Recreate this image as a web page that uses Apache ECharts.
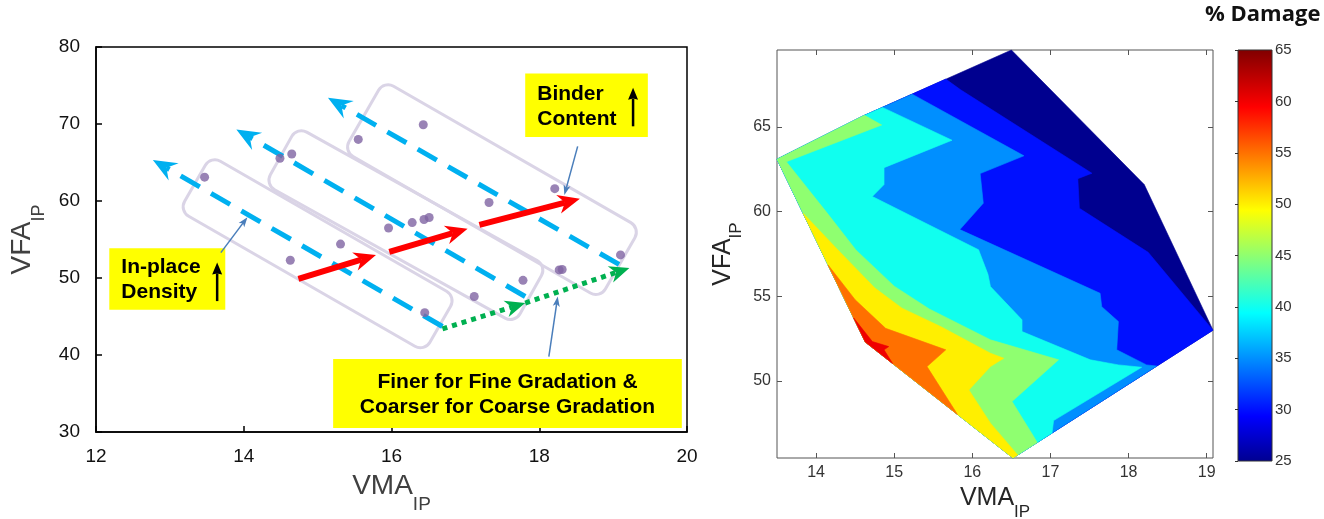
<!DOCTYPE html>
<html>
<head>
<meta charset="utf-8">
<title>VFA vs VMA</title>
<script src="https://cdn.jsdelivr.net/npm/echarts@6.0.0/dist/echarts.min.js"></script>
<style>
  html, body { margin: 0; padding: 0; background: #fff; }
  #main { width: 1324px; height: 519px; }
</style>
</head>
<body>
<div id="main"></div>
<script>
// ---------- left panel (VMA / VFA scatter with annotations) ----------
var mixPoints = [
  [13.47, 63.1], [14.49, 65.55], [14.65, 66.1], [15.55, 68.0], [16.43, 69.9],
  [14.63, 52.3], [15.31, 54.4], [15.96, 56.5], [16.28, 57.2], [16.44, 57.6],
  [16.51, 57.85], [16.45, 45.5], [17.12, 47.6], [17.32, 59.8], [17.78, 49.7],
  [18.21, 61.6], [18.27, 51.05], [18.31, 51.1], [19.1, 53.0]
];
// cyan dashed arrows: [start, tip]
var binderLines = [
  [[16.69, 43.7], [12.77, 65.33]],
  [[17.81, 47.6], [13.9, 69.3]],
  [[19.08, 51.76], [15.14, 73.4]]
];
// red arrows
var densityArrows = [
  [[14.74, 49.9], [15.79, 52.98]],
  [[15.97, 53.4], [17.03, 56.4]],
  [[17.19, 56.9], [18.55, 60.3]]
];
// green dotted arrows
var gradationArrows = [
  [[16.69, 43.4], [17.81, 46.75]],
  [[17.81, 46.75], [19.22, 51.3]]
];
// rounded group frames: top corner, left corner, bottom corner
var groupBoxes = [
  [13.55, 65.9, 13.13, 58.7, 16.45, 40.4],
  [14.73, 69.6, 14.28, 62.2, 17.66, 44.14],
  [15.91, 75.56, 15.34, 66.55, 18.81, 47.4]
];
// yellow notes: x1, y1, x2, y2
var noteBoxes = [
  [17.81, 76.56, 19.47, 68.3],
  [12.18, 53.85, 13.75, 45.88],
  [15.21, 39.49, 19.93, 30.52]
];
var noteText = [
  'Binder\nContent',
  'In-place\nDensity',
  'Finer for Fine Gradation &\nCoarser for Coarse Gradation'
];
var noteAlign = ['left', 'left', 'center'];
var noteUpArrows = [
  [[19.27, 69.7], [19.27, 74.7]],
  [[13.64, 47.0], [13.64, 52.0]]
];
var notePointers = [
  [[18.52, 67.1], [18.34, 60.77]],
  [[13.69, 53.3], [14.05, 57.9]],
  [[18.13, 39.8], [18.25, 47.6]]
];

// ---------- right panel (% damage contour) ----------
var hull = [[13.5, 63.1], [14.6, 65.65], [16.5, 69.55], [18.2, 61.6], [19.08, 53.0], [16.52, 45.45], [14.63, 52.3]];
var c30 = [[15.66, 67.83], [15.85, 67.2], [17.53, 62.27], [17.35, 61.95], [17.37, 60.2], [18.25, 57.6], [19.08, 53.0]];
var c35 = [[15.23, 66.94], [16.66, 63.3], [16.1, 62.25], [16.14, 60.5], [15.84, 58.94], [17.635, 55.18], [17.656, 54.39],
  [17.869, 53.51], [17.848, 51.84], [18.23, 50.95], [18.36, 50.88]];
var c40 = [[14.85, 66.16], [15.74, 64.22], [14.87, 62.6], [14.87, 61.6], [14.72, 60.9], [16.08, 57.75], [16.2, 56.3],
  [16.232, 55.575], [16.636, 53.61], [16.636, 52.92], [17.51, 51.25], [17.869, 50.95], [18.167, 50.81], [17.04, 47.66], [17.02, 46.92]];
var c45 = [[14.62, 65.69], [14.84, 65.12], [13.62, 62.95], [14.14, 59.93], [14.51, 57.74], [15.0, 55.6], [15.45, 54.25],
  [16.232, 52.43], [17.104, 51.25], [16.508, 48.79], [16.785, 46.72], [16.83, 46.36]];
var c50 = [[13.835, 59.9], [14.28, 57.74], [14.75, 55.5], [15.1, 54.3], [15.6, 53.2], [16.232, 51.64], [16.402, 51.34],
  [16.232, 50.85], [15.956, 49.47], [16.232, 47.51], [16.58, 45.63]];
var c55 = [[14.154, 56.85], [14.5, 54.8], [14.89, 53.11], [15.66, 51.84], [15.42, 50.85], [15.81, 48.02]];
var c60 = [[14.48, 53.73], [14.72, 52.33], [14.93, 52.03], [14.87, 51.84], [14.98, 51.03]];
var levels = [25, 30, 35, 40, 45, 50, 55, 60];
var levelColors = ['#00008f', '#0010ff', '#008fff', '#10ffef', '#8fff70', '#ffef00', '#ff7000', '#ef0000'];
var rightXTicks = [14, 15, 16, 17, 18, 19];
var rightYTicks = [50, 55, 60, 65];

function region(line, back) {
  return line.concat(back.map(function (i) { return hull[i]; }));
}
var regions = [
  hull.slice(),
  region(c30, [5, 6, 0, 1]),
  region(c35, [5, 6, 0, 1]),
  region(c40, [5, 6, 0, 1]),
  region(c45, [5, 6, 0, 1]),
  region(c50, [5, 6]),
  region(c55, [6]),
  region(c60, [6])
];

var FONT = 'Liberation Sans, Arial, sans-serif';

function arrowSeries(segs, color, width, dash, headL, headW, notch) {
  return {
    type: 'custom',
    xAxisIndex: 0, yAxisIndex: 0,
    silent: true,
    data: segs.map(function (s) { return [s[0][0], s[0][1], s[1][0], s[1][1]]; }),
    encode: { x: [0, 2], y: [1, 3] },
    renderItem: function (params, api) {
      var p0 = api.coord([api.value(0), api.value(1)]);
      var p1 = api.coord([api.value(2), api.value(3)]);
      var dx = p1[0] - p0[0], dy = p1[1] - p0[1];
      var len = Math.sqrt(dx * dx + dy * dy);
      var ux = dx / len, uy = dy / len, nx = -uy, ny = ux;
      var bx = p1[0] - ux * headL, by = p1[1] - uy * headL;
      var mx = p1[0] - ux * headL * (1 - notch), my = p1[1] - uy * headL * (1 - notch);
      return {
        type: 'group',
        children: [{
          type: 'line',
          shape: { x1: p0[0], y1: p0[1], x2: mx, y2: my },
          style: { stroke: color, lineWidth: width, lineDash: dash, lineCap: 'butt' }
        }, {
          type: 'polygon',
          shape: { points: [[p1[0], p1[1]], [bx + nx * headW / 2, by + ny * headW / 2], [mx, my], [bx - nx * headW / 2, by - ny * headW / 2]] },
          style: { fill: color }
        }]
      };
    }
  };
}

var chart = echarts.init(document.getElementById('main'));

var option = {
  animation: false,
  backgroundColor: '#fff',
  title: {
    text: '% Damage', left: 1205, top: 4, padding: 0,
    textStyle: { fontFamily: 'Open Sans', fontWeight: 'bold', fontSize: 22, color: '#111' }
  },
  grid: [
    { left: 96, top: 47, width: 591, height: 385, show: true, borderColor: '#000', borderWidth: 1.5, outerBoundsMode: 'none' },
    { left: 777, top: 50, width: 436, height: 408, show: true, borderColor: '#555', borderWidth: 1, outerBoundsMode: 'none' },
    { left: 1238, top: 50, width: 34, height: 411, outerBoundsMode: 'none' }
  ],
  xAxis: [
    {
      gridIndex: 0, type: 'value', min: 12, max: 20, interval: 2,
      axisLine: { lineStyle: { color: '#000', width: 1.5 } },
      axisTick: { inside: true, length: 6, lineStyle: { color: '#000', width: 1.5 } },
      axisLabel: { fontSize: 19, color: '#111', fontFamily: FONT, margin: 15 },
      splitLine: { show: false },
      name: '{a|VMA}{b|IP}', nameLocation: 'middle', nameGap: 27,
      nameTextStyle: {
        rich: {
          a: { fontSize: 28, color: '#404040', fontFamily: FONT },
          b: { fontSize: 19, color: '#404040', fontFamily: FONT, padding: [36, 0, 0, 0] }
        }
      }
    },
    {
      gridIndex: 1, type: 'value', min: 13.5, max: 19.08, position: 'bottom',
      axisLine: { show: false },
      axisTick: { inside: true, length: 5, customValues: rightXTicks, lineStyle: { color: '#555' } },
      axisLabel: { fontSize: 16, color: '#333', fontFamily: FONT, margin: 7, customValues: rightXTicks },
      splitLine: { show: false },
      name: '{a|VMA}{b|IP}', nameLocation: 'middle', nameGap: 12,
      nameTextStyle: {
        rich: {
          a: { fontSize: 25, color: '#262626', fontFamily: FONT },
          b: { fontSize: 17, color: '#262626', fontFamily: FONT, padding: [27, 0, 0, 0] }
        }
      }
    },
    {
      gridIndex: 1, type: 'value', min: 13.5, max: 19.08, position: 'top',
      axisLine: { show: false },
      axisTick: { inside: true, length: 5, customValues: rightXTicks, lineStyle: { color: '#555' } },
      axisLabel: { show: false },
      splitLine: { show: false }
    },
    { gridIndex: 2, type: 'value', min: 0, max: 1, show: false }
  ],
  yAxis: [
    {
      gridIndex: 0, type: 'value', min: 30, max: 80, interval: 10,
      axisLine: { show: true, lineStyle: { color: '#000', width: 1.5 } },
      axisTick: { show: true, inside: true, length: 6, lineStyle: { color: '#000', width: 1.5 } },
      axisLabel: { fontSize: 19, color: '#111', fontFamily: FONT, margin: 16 },
      splitLine: { show: false },
      name: '{a|VFA}{b|IP}', nameLocation: 'middle', nameGap: 48, nameRotate: 90,
      nameTextStyle: {
        rich: {
          a: { fontSize: 28, color: '#404040', fontFamily: FONT },
          b: { fontSize: 18, color: '#404040', fontFamily: FONT, padding: [34, 0, 0, 0] }
        }
      }
    },
    {
      gridIndex: 1, type: 'value', min: 45.45, max: 69.55, position: 'left',
      axisLine: { show: false },
      axisTick: { show: true, inside: true, length: 5, customValues: rightYTicks, lineStyle: { color: '#555' } },
      axisLabel: { fontSize: 16, color: '#333', fontFamily: FONT, margin: 6, customValues: rightYTicks },
      splitLine: { show: false },
      name: '{a|VFA}{b|IP}', nameLocation: 'middle', nameGap: 32, nameRotate: 90,
      nameTextStyle: {
        rich: {
          a: { fontSize: 25, color: '#262626', fontFamily: FONT },
          b: { fontSize: 17, color: '#262626', fontFamily: FONT, padding: [27, 0, 0, 0] }
        }
      }
    },
    {
      gridIndex: 1, type: 'value', min: 45.45, max: 69.55, position: 'right',
      axisLine: { show: false },
      axisTick: { show: true, inside: true, length: 5, customValues: rightYTicks, lineStyle: { color: '#555' } },
      axisLabel: { show: false },
      splitLine: { show: false }
    },
    {
      gridIndex: 2, type: 'value', min: 25, max: 65, interval: 5, position: 'right',
      axisLine: { show: false },
      axisTick: { show: true, inside: true, length: 3, lineStyle: { color: '#333' } },
      axisLabel: { fontSize: 15, color: '#333', fontFamily: FONT, margin: 3 },
      splitLine: { show: false }
    }
  ],
  series: [
    // group frames
    {
      type: 'custom', xAxisIndex: 0, yAxisIndex: 0, silent: true,
      data: groupBoxes,
      encode: { x: [0, 2, 4], y: [1, 3, 5] },
      renderItem: function (params, api) {
        var a = api.coord([api.value(0), api.value(1)]);
        var b = api.coord([api.value(2), api.value(3)]);
        var c = api.coord([api.value(4), api.value(5)]);
        var w = Math.hypot(c[0] - b[0], c[1] - b[1]);
        var h = Math.hypot(a[0] - b[0], a[1] - b[1]);
        var ang = Math.atan2(c[1] - b[1], c[0] - b[0]);
        return {
          type: 'rect',
          x: (a[0] + c[0]) / 2, y: (a[1] + c[1]) / 2, rotation: -ang,
          shape: { x: -w / 2, y: -h / 2, width: w, height: h, r: 11 },
          style: { fill: null, stroke: '#dad4e6', lineWidth: 3 }
        };
      }
    },
    arrowSeries(binderLines, '#00b0f0', 5, [22, 13], 24, 20, 0.35),
    arrowSeries(densityArrows, '#ff0000', 6, null, 22, 19, 0.3),
    arrowSeries(gradationArrows, '#00b050', 5, [5, 5], 20, 17, 0.3),
    {
      type: 'scatter', xAxisIndex: 0, yAxisIndex: 0, silent: true,
      data: mixPoints, symbolSize: 9,
      itemStyle: { color: '#8064a2' }
    },
    // yellow notes
    {
      type: 'custom', xAxisIndex: 0, yAxisIndex: 0, silent: true,
      data: noteBoxes,
      encode: { x: [0, 2], y: [1, 3] },
      renderItem: function (params, api) {
        var i = params.dataIndex;
        var p1 = api.coord([api.value(0), api.value(1)]);
        var p2 = api.coord([api.value(2), api.value(3)]);
        var tx = noteAlign[i] === 'center' ? (p1[0] + p2[0]) / 2 : p1[0] + 12;
        return {
          type: 'group',
          children: [{
            type: 'rect',
            shape: { x: p1[0], y: p1[1], width: p2[0] - p1[0], height: p2[1] - p1[1] },
            style: { fill: '#ffff00' }
          }, {
            type: 'text',
            style: {
              text: noteText[i], x: tx, y: (p1[1] + p2[1]) / 2 + 1,
              align: noteAlign[i], verticalAlign: 'middle', lineHeight: 25,
              fontSize: 21, fontWeight: 'bold', fontFamily: FONT, fill: '#000'
            }
          }]
        };
      }
    },
    arrowSeries(noteUpArrows, '#000', 2.5, null, 12, 10, 0.1),
    arrowSeries(notePointers, '#4a7ebb', 1.5, null, 10, 7, 0.25),
    // contour bands
    {
      type: 'custom', xAxisIndex: 1, yAxisIndex: 1, silent: true,
      data: levels.map(function (l) { return [hull[0][0], hull[0][1], l]; }),
      encode: { x: 0, y: 1 },
      renderItem: function (params, api) {
        var i = params.dataIndex;
        var pts = regions[i].map(function (p) { return api.coord(p); });
        return {
          type: 'polygon', shape: { points: pts },
          style: { fill: levelColors[i], stroke: levelColors[i], lineWidth: 0.6 }
        };
      }
    },
    // colour bar
    {
      type: 'custom', xAxisIndex: 3, yAxisIndex: 3, silent: true,
      data: [[0, 25, 1, 65]],
      encode: { x: [0, 2], y: [1, 3] },
      renderItem: function (params, api) {
        var p1 = api.coord([api.value(0), api.value(3)]);
        var p2 = api.coord([api.value(2), api.value(1)]);
        return {
          type: 'rect',
          shape: { x: p1[0], y: p1[1], width: p2[0] - p1[0], height: p2[1] - p1[1] },
          style: {
            stroke: '#333', lineWidth: 1,
            fill: new echarts.graphic.LinearGradient(0, 1, 0, 0, [
              { offset: 0, color: '#000090' },
              { offset: 0.11, color: '#0000ff' },
              { offset: 0.36, color: '#00ffff' },
              { offset: 0.61, color: '#ffff00' },
              { offset: 0.86, color: '#ff0000' },
              { offset: 1, color: '#800000' }
            ])
          }
        };
      }
    }
  ]
};

chart.setOption(option);
</script>
</body>
</html>
